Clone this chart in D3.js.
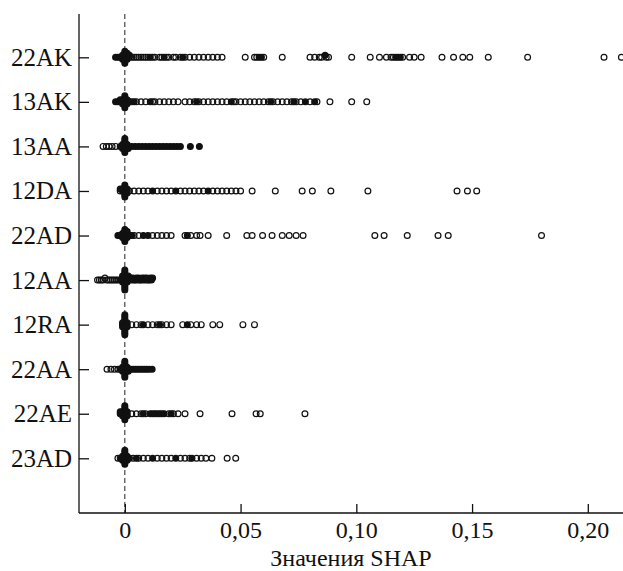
<!DOCTYPE html>
<html>
<head>
<meta charset="utf-8">
<script src="https://cdn.jsdelivr.net/npm/d3@7"></script>
<style>
  body { margin: 0; background: #fff; }
  svg { display: block; }
</style>
</head>
<body>
<div id="chart"></div>
<script>
// Basic dimensions
const width = 623;
const height = 571;

// Feature names, top to bottom
const categories = ["22AK", "13AK", "13AA", "12DA", "22AD", "12AA", "12RA", "22AA", "22AE", "23AD"];
const xTicks = [0, 0.05, 0.10, 0.15, 0.20];

// SHAP values per feature: open = light markers, filled = dark markers
const open22AK = [0.001, 0.002, 0.003, 0.004, 0.005, 0.006, 0.007, 0.008, 0.009, 0.010, 0.012, 0.013, 0.015, 0.016, 0.018, 0.019, 0.021, 0.022, 0.024, 0.026, 0.028, 0.030, 0.032, 0.034, 0.036, 0.038, 0.040, 0.042,
  0.052, 0.056, 0.057, 0.060, 0.068, 0.080, 0.082, 0.084, 0.085, 0.087, 0.088, 0.098, 0.106, 0.110, 0.113, 0.115, 0.116, 0.120, 0.123, 0.125, 0.128,
  0.137, 0.142, 0.146, 0.149, 0.157, 0.174, 0.207, 0.2145];
const filled22AK = [0, 0, 0, 0, 0, 0, 0, -0.001, -0.001, -0.001, 0.001, 0.001, 0.001, -0.002, 0.002, -0.003, -0.004,
  0.011, 0.017, 0.025, 0.058, 0.059, 0.0865, 0.117, 0.118, 0.119];

const open13AK = [0.003, 0.005, 0.007, 0.009, 0.012, 0.013, 0.015, 0.017, 0.019, 0.021, 0.023, 0.026, 0.028, 0.030, 0.032, 0.034, 0.036,
  0.038, 0.040, 0.042, 0.044, 0.047, 0.048, 0.050, 0.052, 0.054, 0.056, 0.058, 0.060, 0.062, 0.064, 0.066, 0.068, 0.070, 0.072, 0.074, 0.076,
  0.080, 0.083, 0.0886, 0.098, 0.1045];
const filled13AK = [0, 0, 0, 0, 0, 0, 0, -0.001, -0.001, -0.001, 0.001, 0.001, 0.001, -0.002, -0.002, 0.002, -0.003, -0.004,
  0.004, 0.011, 0.031, 0.046, 0.063, 0.073, 0.078, 0.082];

const open13AA = [-0.0094, -0.008, -0.0068, -0.0055, -0.004];
const filled13AA = [0, 0, 0, 0, 0, 0, 0, 0, -0.001, -0.001, -0.001, 0.001, 0.001, -0.002,
  0.0015, 0.003, 0.0045, 0.006, 0.0075, 0.009, 0.0105, 0.012, 0.0135, 0.015, 0.0165, 0.018, 0.0195, 0.021, 0.0225, 0.024, 0.0283, 0.0322];

const open12DA = [-0.002, 0.002, 0.004, 0.006, 0.008, 0.010, 0.014, 0.016, 0.018, 0.020, 0.024, 0.026, 0.028, 0.030, 0.032, 0.034, 0.038, 0.040,
  0.042, 0.044, 0.046, 0.048, 0.050, 0.055, 0.065, 0.0766, 0.081, 0.089, 0.105, 0.1435, 0.148, 0.152];
const filled12DA = [0, 0, 0, 0, 0, 0, 0, -0.001, -0.001, 0.001, 0.001, 0.001, -0.002,
  0.012, 0.022, 0.036];

const open22AD = [0.0015, 0.004, 0.006, 0.012, 0.014, 0.016, 0.018, 0.020, 0.026, 0.0285, 0.031, 0.0325, 0.036, 0.044, 0.0527, 0.055, 0.0595,
  0.0636, 0.068, 0.071, 0.074, 0.077, 0.108, 0.112, 0.122, 0.1353, 0.1397, 0.180];
const filled22AD = [0, 0, 0, 0, 0, 0, 0, -0.001, -0.001, -0.001, 0.001, 0.001, 0.001, -0.002, 0.002, -0.003,
  0.003, 0.008, 0.010, 0.027];

const open12AA = [-0.0118, -0.011, -0.0102, -0.0094, -0.0086, -0.0078, -0.007, -0.0062, -0.0054, -0.0046, -0.0038, -0.003];
const filled12AA = [0, 0, 0, 0, 0, 0, 0, 0, 0, 0, 0, -0.001, -0.001, -0.001, -0.001, 0.001, 0.001, 0.001, -0.002,
  0.0015, 0.002, 0.0025, 0.003, 0.0035, 0.004, 0.0045, 0.005, 0.0055, 0.006, 0.0065, 0.007, 0.0075, 0.008, 0.0085, 0.009, 0.0095, 0.010, 0.0105, 0.011, 0.0115, 0.012];

const open12RA = [0.003, 0.005, 0.007, 0.010, 0.012, 0.014, 0.016, 0.018, 0.020, 0.025, 0.0285, 0.031, 0.033, 0.038, 0.041, 0.051, 0.056];
const filled12RA = [0, 0, 0, 0, 0, 0, 0, 0, 0, 0, 0, -0.001, -0.001, -0.001, 0.001, 0.001, 0.001,
  0.008, 0.015, 0.027];

const open22AA = [-0.0077, -0.006, -0.0045, -0.003];
const filled22AA = [0, 0, 0, 0, 0, 0, 0, 0, 0, -0.001, -0.001, -0.001, 0.001, 0.001, -0.002,
  0.0015, 0.0025, 0.0035, 0.0045, 0.0055, 0.0065, 0.0075, 0.0085, 0.0095, 0.0105, 0.0118];

const open22AE = [0.003, 0.005, 0.007, 0.009, 0.012, 0.014, 0.016, 0.019, 0.021, 0.023, 0.026, 0.0325, 0.0463, 0.0567, 0.0585, 0.0778];
const filled22AE = [0, 0, 0, 0, 0, 0, 0, 0, -0.001, -0.001, -0.001, 0.001, 0.001, 0.001, -0.002, -0.002,
  0.008, 0.011, 0.013, 0.015, 0.017, 0.020];

const open23AD = [-0.003, 0.0036, 0.006, 0.008, 0.010, 0.014, 0.016, 0.018, 0.020, 0.024, 0.026, 0.028, 0.031, 0.033, 0.035, 0.0376, 0.0442, 0.0479];
const filled23AD = [0, 0, 0, 0, 0, 0, 0, 0, -0.001, -0.001, -0.001, 0.001, 0.001, 0.001, -0.002, 0.002,
  0.005, 0.012, 0.022, 0.029];

const rows = [
  { name: "22AK", open: open22AK, filled: filled22AK },
  { name: "13AK", open: open13AK, filled: filled13AK },
  { name: "13AA", open: open13AA, filled: filled13AA },
  { name: "12DA", open: open12DA, filled: filled12DA },
  { name: "22AD", open: open22AD, filled: filled22AD },
  { name: "12AA", open: open12AA, filled: filled12AA },
  { name: "12RA", open: open12RA, filled: filled12RA },
  { name: "22AA", open: open22AA, filled: filled22AA },
  { name: "22AE", open: open22AE, filled: filled22AE },
  { name: "23AD", open: open23AD, filled: filled23AD }
];

const serif = "'Liberation Serif', 'Times New Roman', Times, serif";

const svg = d3.select("#chart")
  .append("svg")
  .attr("width", width)
  .attr("height", height);

const axisLeftX = 79;
const axisBottomY = 513;
const axisTopY = 14;

// Scales
const x = d3.scaleLinear()
  .domain([-0.0198, 0.2152])
  .range([axisLeftX, width]);

const y = d3.scalePoint()
  .domain(categories)
  .range([57.3, 458.3]);

// Zero reference line
svg.append("line")
  .attr("x1", x(0)).attr("x2", x(0))
  .attr("y1", axisTopY).attr("y2", axisBottomY)
  .attr("stroke", "#222")
  .attr("stroke-width", 1)
  .attr("stroke-dasharray", "5,3");

// Beeswarm-ish stacking: points falling in the same 2px bin get spread vertically
const binW = 2;
const step = 2;
const points = [];
rows.forEach(r => {
  const all = r.open.map(v => ({ v, filled: false }))
    .concat(r.filled.map(v => ({ v, filled: true })));
  const counts = {};
  all.forEach(p => {
    const b = Math.round(x(p.v) / binW);
    const k = counts[b] || 0;
    counts[b] = k + 1;
    const off = k === 0 ? 0 : Math.ceil(k / 2) * step * (k % 2 ? -1 : 1);
    points.push({ name: r.name, v: p.v, filled: p.filled, dy: off });
  });
});

// Open markers first, filled ones on top
const plot = svg.append("g");
plot.selectAll("circle.open")
  .data(points.filter(d => !d.filled))
  .enter()
  .append("circle")
  .attr("class", "open")
  .attr("cx", d => x(d.v))
  .attr("cy", d => y(d.name) + d.dy)
  .attr("r", 2.9)
  .attr("fill", "none")
  .attr("stroke", "#111")
  .attr("stroke-width", 1.2);

plot.selectAll("circle.filled")
  .data(points.filter(d => d.filled))
  .enter()
  .append("circle")
  .attr("class", "filled")
  .attr("cx", d => x(d.v))
  .attr("cy", d => y(d.name) + d.dy)
  .attr("r", 2.9)
  .attr("fill", "#111")
  .attr("stroke", "#111")
  .attr("stroke-width", 1.2);

// Axes
const xAxis = svg.append("g")
  .attr("transform", `translate(0,${axisBottomY})`)
  .call(d3.axisBottom(x)
    .tickValues(xTicks)
    .tickSizeInner(-9)
    .tickSizeOuter(0)
    .tickPadding(8)
    .tickFormat(d => d === 0 ? "0" : d3.format(".2f")(d).replace(".", ",")));

const yAxis = svg.append("g")
  .attr("transform", `translate(${axisLeftX},0)`)
  .call(d3.axisLeft(y)
    .tickSizeInner(-10)
    .tickSizeOuter(0)
    .tickPadding(7));

[xAxis, yAxis].forEach(g => {
  g.attr("font-family", null);
  g.select(".domain").remove();
  g.selectAll("line").attr("stroke", "#111").attr("stroke-width", 1.3);
  g.selectAll("text")
    .attr("fill", "#111")
    .style("font-family", serif)
    .style("font-size", "24px");
});
yAxis.selectAll("text").style("font-size", "25px");

// Frame lines (left and bottom)
svg.append("line")
  .attr("x1", axisLeftX).attr("x2", axisLeftX)
  .attr("y1", axisTopY).attr("y2", axisBottomY)
  .attr("stroke", "#111").attr("stroke-width", 1.3);
svg.append("line")
  .attr("x1", axisLeftX).attr("x2", width)
  .attr("y1", axisBottomY).attr("y2", axisBottomY)
  .attr("stroke", "#111").attr("stroke-width", 1.3);

// X-axis label
svg.append("text")
  .attr("x", (axisLeftX + width) / 2)
  .attr("y", 565.5)
  .attr("text-anchor", "middle")
  .attr("fill", "#111")
  .style("font-family", serif)
  .style("font-size", "24px")
  .text("Значения SHAP");
</script>
</body>
</html>
